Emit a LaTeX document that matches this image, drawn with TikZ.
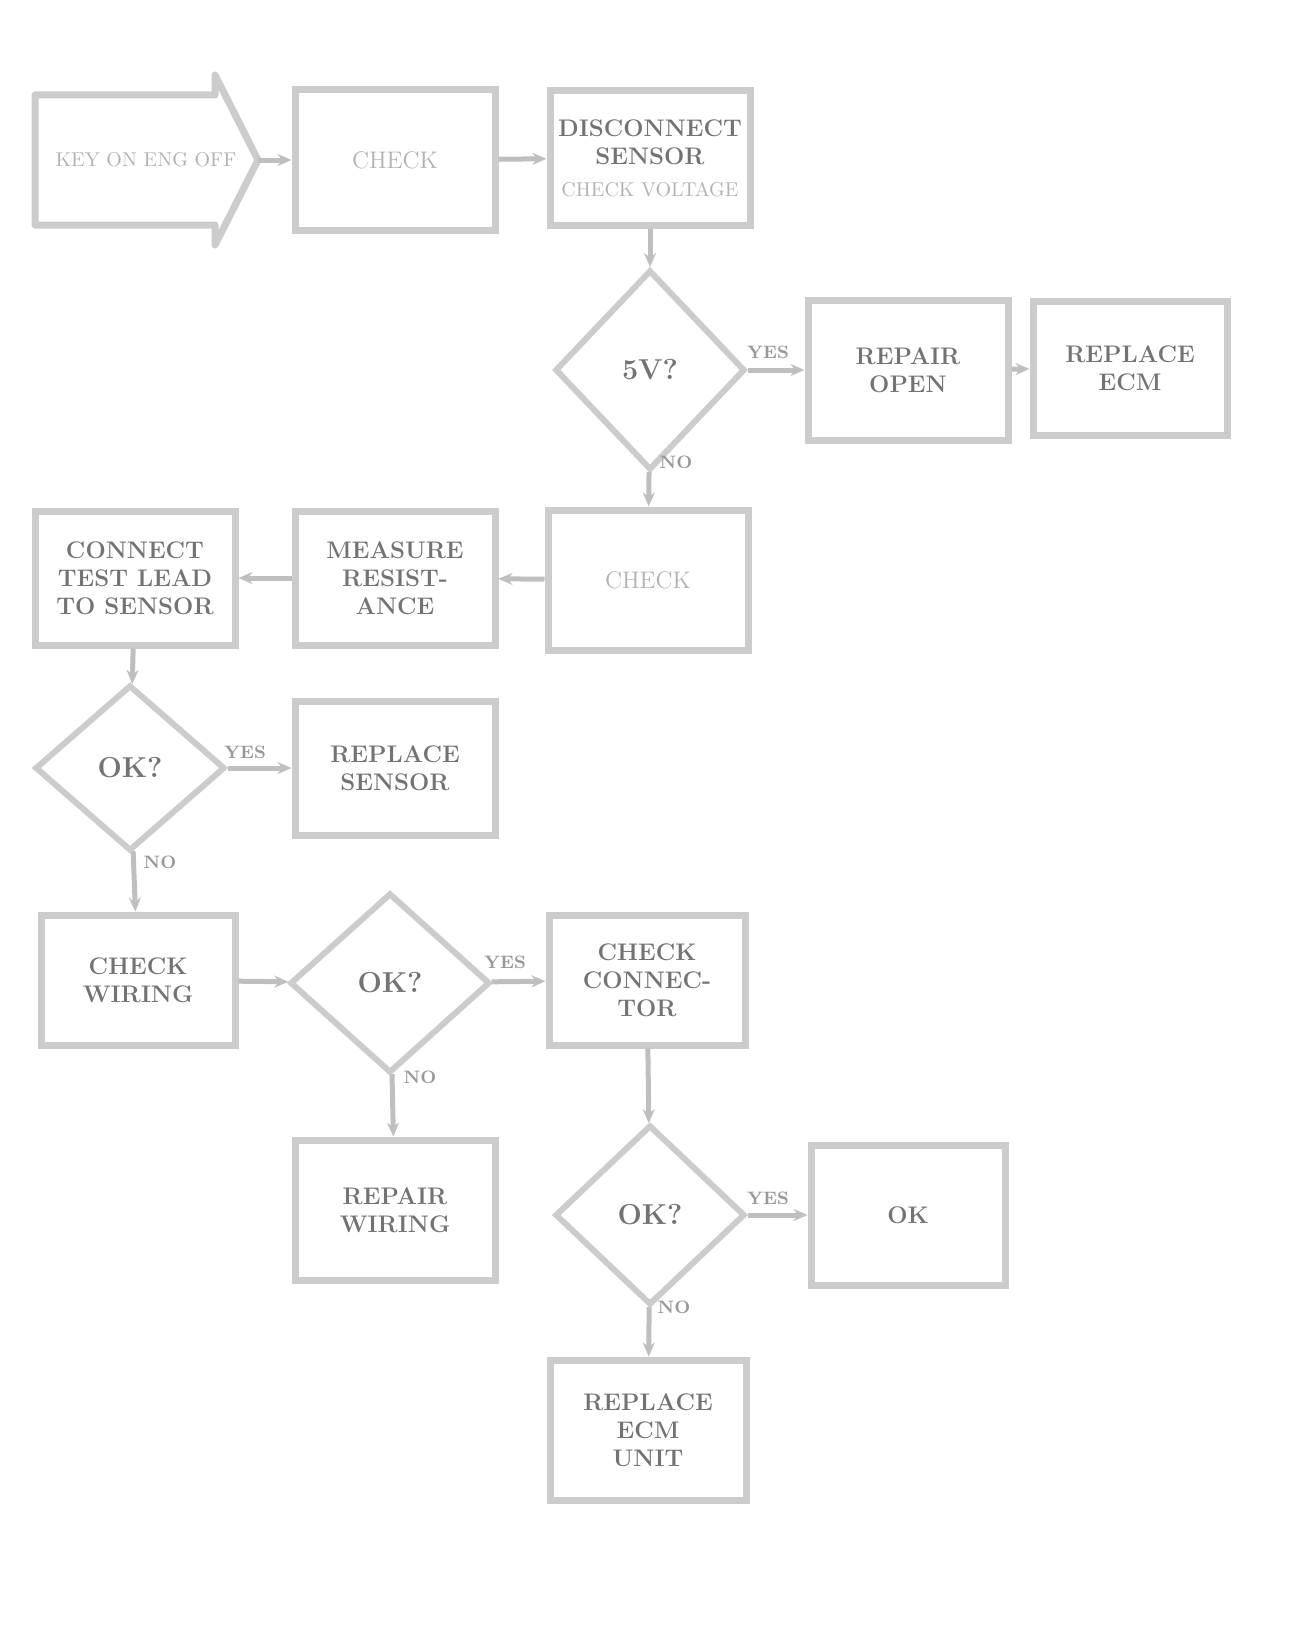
\documentclass[tikz,border=0pt]{standalone}
\usetikzlibrary{shapes.geometric,arrows.meta}
\begin{document}
\begin{tikzpicture}[x=0.5pt,y=-0.5pt,
  box/.style={draw=black!20,line width=3.5pt,rectangle,align=center,font=\bfseries\large,text=black!55,inner sep=3pt},
  lightbox/.style={box,font=\large,text=black!30},
  dia/.style={draw=black!20,line width=3pt,diamond,align=center,font=\bfseries\Large,text=black!55,inner sep=1pt},
  conn/.style={draw=black!25,line width=2.5pt,-{Stealth[length=7pt,width=6pt]}},
  lbl/.style={font=\bfseries\small,text=black!40,inner sep=1pt}]
\useasboundingbox (0,0) rectangle (1313,1627);
% start arrow
\node[draw=none,minimum width=112pt,minimum height=85pt,font=\normalsize,text=black!30] (A) at (146,160) {KEY ON ENG OFF};
\draw[draw=black!20,line width=3.5pt,line join=round] (35,95) -- (215,95) -- (215,75) -- (258,160) -- (215,245) -- (215,225) -- (35,225) -- cycle;
\node[lightbox,minimum width=100pt,minimum height=70pt] (B) at (395,160) {CHECK};
\node[box,minimum width=100pt,minimum height=67pt] (C) at (650,158) {DISCONNECT\\SENSOR\\[2pt]{\normalfont\normalsize\color{black!30}CHECK VOLTAGE}};
\node[dia,minimum width=95pt,minimum height=100pt] (D1) at (650,370) {5V?};
\node[box,minimum width=100pt,minimum height=70pt] (E) at (908,370) {REPAIR\\OPEN};
\node[box,minimum width=97pt,minimum height=67pt] (F) at (1130,368) {REPLACE\\ECM};
\node[lightbox,minimum width=100pt,minimum height=70pt] (G) at (648,580) {CHECK};
\node[box,minimum width=100pt,minimum height=67pt] (H) at (395,578) {MEASURE\\RESIST-\\ANCE};
\node[box,minimum width=100pt,minimum height=67pt] (I) at (135,578) {CONNECT\\TEST LEAD\\TO SENSOR};
\node[dia,minimum width=95pt,minimum height=83pt] (D2) at (130,768) {OK?};
\node[box,minimum width=100pt,minimum height=67pt] (J) at (395,768) {REPLACE\\SENSOR};
\node[box,minimum width=97pt,minimum height=65pt] (K) at (138,980) {CHECK\\WIRING};
\node[dia,minimum width=100pt,minimum height=90pt] (D3) at (390,983) {OK?};
\node[box,minimum width=98pt,minimum height=65pt] (L) at (647,980) {CHECK\\CONNEC-\\TOR};
\node[box,minimum width=100pt,minimum height=70pt] (M) at (395,1210) {REPAIR\\WIRING};
\node[dia,minimum width=95pt,minimum height=90pt] (D4) at (650,1215) {OK?};
\node[box,minimum width=97pt,minimum height=70pt] (N) at (908,1215) {OK};
\node[box,minimum width=98pt,minimum height=70pt] (O) at (648,1430) {REPLACE\\ECM\\UNIT};
% connectors
\draw[conn] (A.east) -- (B);
\draw[conn] (B) -- (C);
\draw[conn] (C) -- (D1);
\draw[conn] (D1) -- (E);
\draw[conn] (E) -- (F);
\draw[conn] (D1) -- (G);
\draw[conn] (G) -- (H);
\draw[conn] (H) -- (I);
\draw[conn] (I) -- (D2);
\draw[conn] (D2) -- (J);
\draw[conn] (D2) -- (K);
\draw[conn] (K) -- (D3);
\draw[conn] (D3) -- (L);
\draw[conn] (D3) -- (M);
\draw[conn] (L) -- (D4);
\draw[conn] (D4) -- (N);
\draw[conn] (D4) -- (O);
% labels
\node[lbl] (l1) at (768,352) {YES};
\node[lbl] (l2) at (676,462) {NO};
\node[lbl] (l3) at (245,752) {YES};
\node[lbl] (l4) at (160,862) {NO};
\node[lbl] (l5) at (505,962) {YES};
\node[lbl] (l6) at (420,1077) {NO};
\node[lbl] (l7) at (768,1198) {YES};
\node[lbl] (l8) at (674,1307) {NO};
\end{tikzpicture}
\end{document}
